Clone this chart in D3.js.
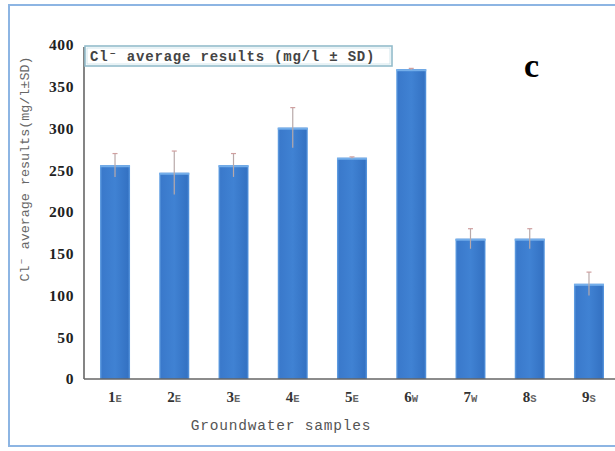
<!DOCTYPE html>
<html>
<head>
<meta charset="utf-8">
<script src="https://cdn.jsdelivr.net/npm/d3@7"></script>
<style>
  html, body { margin: 0; padding: 0; background: #fff; }
  svg { display: block; }
  .serif { font-family: "Liberation Serif", "Times New Roman", serif; }
  .mono { font-family: "Liberation Mono", "DejaVu Sans Mono", monospace; }
</style>
</head>
<body>
<svg id="chart" width="615" height="451"></svg>
<script>
// Chloride results per groundwater sample (mean and standard deviation, mg/l)
const sampleNums = ["1", "2", "3", "4", "5", "6", "7", "8", "9"];
const sampleZones = ["E", "E", "E", "E", "E", "W", "W", "S", "S"];
const chlorideMean = [256, 247, 256, 301, 265, 371, 168, 168, 114];
const chlorideSD = [14, 26, 14, 24, 1, 1, 12, 12, 14];
const yTicks = [0, 50, 100, 150, 200, 250, 300, 350, 400];

const samples = sampleNums.map((n, i) => n + sampleZones[i]);
const data = samples.map((s, i) => ({ id: s, num: sampleNums[i], zone: sampleZones[i], mean: chlorideMean[i], sd: chlorideSD[i] }));

const svg = d3.select("#chart");

const x = d3.scaleBand().domain(samples).range([84, 620]).paddingInner(0.493).paddingOuter(0.27);
const y = d3.scaleLinear().domain([0, 400]).range([379, 45]);

// bar shading
const defs = svg.append("defs");
const grad = defs.append("linearGradient").attr("id", "barFill").attr("x1", "0").attr("x2", "1").attr("y1", "0").attr("y2", "0");
[["0%", "#6aa6e6"], ["7%", "#3a79cb"], ["50%", "#4082d3"], ["93%", "#3472c3"], ["100%", "#5e9ce2"]]
  .forEach(([o, c]) => grad.append("stop").attr("offset", o).attr("stop-color", c));

// outer frame
svg.append("rect").attr("x", 9).attr("y", 5).attr("width", 640).attr("height", 441)
  .attr("fill", "none").attr("stroke", "#8db5e3").attr("stroke-width", 2);

// bars
svg.append("g").selectAll("rect").data(data).join("rect")
  .attr("x", d => x(d.id)).attr("width", x.bandwidth())
  .attr("y", d => y(d.mean)).attr("height", d => y(0) - y(d.mean))
  .attr("fill", "url(#barFill)");
svg.append("g").selectAll("rect").data(data).join("rect")
  .attr("x", d => x(d.id)).attr("width", x.bandwidth())
  .attr("y", d => y(d.mean)).attr("height", 2)
  .attr("fill", "#74aeea");

// error bars
const eb = svg.append("g").attr("stroke", "#b9a9a9").attr("stroke-width", 1.2).attr("fill", "none");
data.forEach(d => {
  const cx = x(d.id) + x.bandwidth() / 2;
  eb.append("line").attr("x1", cx).attr("x2", cx).attr("y1", y(d.mean + d.sd)).attr("y2", y(d.mean - d.sd));
  eb.append("line").attr("x1", cx - 2.5).attr("x2", cx + 2.5).attr("y1", y(d.mean + d.sd)).attr("y2", y(d.mean + d.sd)).attr("stroke", "#d0a0a0");
});

// axes lines
svg.append("line").attr("x1", 84).attr("x2", 615).attr("y1", y(0)).attr("y2", y(0))
  .attr("stroke", "#666").attr("stroke-width", 1.6);
svg.append("line").attr("x1", 84).attr("x2", 84).attr("y1", y(0)).attr("y2", 47)
  .attr("stroke", "#666").attr("stroke-width", 1.6);

// y tick labels
const yAxis = svg.append("g").attr("transform", "translate(74,0)")
  .call(d3.axisLeft(y).tickValues(yTicks).tickSize(0).tickPadding(0))
  .attr("font-family", null).attr("font-size", null);
yAxis.select(".domain").remove();
yAxis.selectAll("text")
  .attr("class", "serif")
  .style("font-family", "'Liberation Serif', 'Times New Roman', serif")
  .style("font-weight", "bold").style("font-size", "15.5px").attr("fill", "#222")
  .attr("letter-spacing", 0.6);

// x tick labels: bold digit, smaller zone letter
const xl = svg.append("g").selectAll("text").data(data).join("text")
  .attr("x", d => x(d.id) + x.bandwidth() / 2).attr("y", 402)
  .attr("text-anchor", "middle")
  .style("font-family", "'Liberation Serif', 'Times New Roman', serif")
  .attr("fill", "#333");
xl.append("tspan").style("font-weight", "bold").style("font-size", "15px").text(d => d.num);
xl.append("tspan").style("font-size", "10.5px").attr("fill", "#666")
  .style("font-family", "'Liberation Mono', monospace").style("font-weight", "bold").text(d => d.zone);

// axis titles
svg.append("text").attr("x", 281).attr("y", 430).attr("text-anchor", "middle")
  .style("font-family", "'Liberation Mono', 'DejaVu Sans Mono', monospace")
  .style("font-size", "14.5px").attr("letter-spacing", 0.8).attr("fill", "#555")
  .text("Groundwater samples");

svg.append("text").attr("transform", "translate(29,169) rotate(-90)").attr("text-anchor", "middle")
  .style("font-family", "'Liberation Mono', 'DejaVu Sans Mono', monospace")
  .style("font-size", "13.4px").attr("fill", "#666")
  .text("Cl\u207B average results(mg/l\u00B1SD)");

// legend box
svg.append("rect").attr("x", 85).attr("y", 46).attr("width", 307).attr("height", 20)
  .attr("fill", "#fff").attr("stroke", "#93bccb").attr("stroke-width", 1.6);
svg.append("rect").attr("x", 87).attr("y", 48).attr("width", 303).attr("height", 16)
  .attr("fill", "none").attr("stroke", "#c9e0e8").attr("stroke-width", 0.8);
svg.append("text").attr("x", 90).attr("y", 60.5)
  .style("font-family", "'Liberation Mono', 'DejaVu Sans Mono', monospace")
  .style("font-size", "14px").attr("letter-spacing", 0.8).attr("fill", "#444").style("font-weight", "bold")
  .text("Cl\u207B average results (mg/l \u00B1 SD)");

// panel letter
svg.append("text").attr("x", 524).attr("y", 77)
  .style("font-family", "'Liberation Serif', 'Times New Roman', serif")
  .style("font-weight", "bold").style("font-size", "34px").attr("fill", "#000")
  .text("c");
</script>
</body>
</html>
